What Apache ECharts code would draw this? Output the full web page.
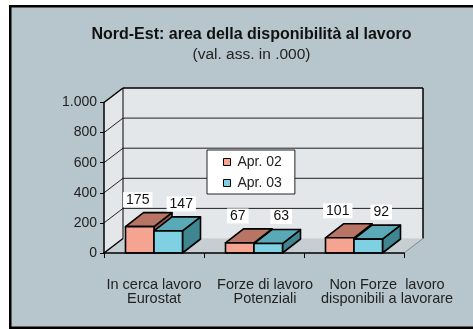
<!DOCTYPE html>
<html>
<head>
<meta charset="utf-8">
<script src="https://cdn.jsdelivr.net/npm/echarts@6/dist/echarts.min.js"></script>
<style>
  html, body { margin: 0; padding: 0; background: #ffffff; }
  #chart { width: 473px; height: 329px; }
</style>
</head>
<body>
<div id="chart"></div>
<script>
// ---- data ----
const categories = [
  'In cerca lavoro\nEurostat',
  'Forze di lavoro\nPotenziali',
  'Non Forze  lavoro\ndisponibili a lavorare'
];
const seriesNames = ['Apr. 02', 'Apr. 03'];
const apr02 = [175, 67, 101];
const apr03 = [147, 63, 92];
const yTicks = [0, 200, 400, 600, 800, 1000];

// ---- look ----
const FONT = '"Liberation Sans", Arial, sans-serif';
const BG = '#b6c6cc';
const WALL = '#e3e7e9';
const FLOOR = '#c6ced2';
const WALL_DX = 19, WALL_DY = -14.5;   // depth of the box
const BAR_DX = 18, BAR_DY = -14;       // depth of each column
const BAR_RATIO = 0.285;               // column width as share of a category band
const LABEL_SHIFT = [-2, 13];          // horizontal nudge of value labels per series
const CAT_SHIFT = [0, 11, 33];         // horizontal nudge of category labels
const PALETTE = [
  { front: '#f4a490', top: '#b87464', side: '#9a5a4c' },
  { front: '#7fd0e2', top: '#59a9b7', side: '#3f8690' }
];

function fmtThousands(v) {
  return String(v).replace(/\B(?=(\d{3})+(?!\d))/g, '.');
}

// Box walls, floor and gridlines of the 3D frame
function renderFrame(params, api) {
  const cs = params.coordSys;
  const L = cs.x, R = cs.x + cs.width, T = cs.y, B = cs.y + cs.height;
  const dx = WALL_DX, dy = WALL_DY;
  const kids = [];
  kids.push({ type: 'polygon', shape: { points: [[L, B], [R, B], [R + dx, B + dy], [L + dx, B + dy]] },
              style: { fill: FLOOR, stroke: null } });
  kids.push({ type: 'polygon', shape: { points: [[L, B], [L, T], [L + dx, T + dy], [L + dx, B + dy]] },
              style: { fill: WALL, stroke: null } });
  kids.push({ type: 'rect', shape: { x: L + dx, y: T + dy, width: cs.width, height: cs.height },
              style: { fill: WALL, stroke: null } });
  yTicks.forEach(function (v) {
    if (v === 0 || v === yTicks[yTicks.length - 1]) return;
    const y = api.coord([0, v])[1];
    kids.push({ type: 'line', shape: { x1: L, y1: y, x2: L + dx, y2: y + dy },
                style: { stroke: '#222', lineWidth: 1 } });
    kids.push({ type: 'line', shape: { x1: L + dx, y1: y + dy, x2: R + dx, y2: y + dy },
                style: { stroke: '#222', lineWidth: 1 } });
  });
  const edge = { stroke: '#000', lineWidth: 1.5 };
  kids.push({ type: 'line', shape: { x1: L, y1: T, x2: L + dx, y2: T + dy }, style: edge });
  kids.push({ type: 'line', shape: { x1: L, y1: B, x2: L + dx, y2: B + dy }, style: edge });
  kids.push({ type: 'line', shape: { x1: L + dx, y1: T + dy, x2: L + dx, y2: B + dy }, style: { stroke: '#000', lineWidth: 1 } });
  kids.push({ type: 'line', shape: { x1: L + dx, y1: T + dy, x2: R + dx, y2: T + dy }, style: edge });
  kids.push({ type: 'line', shape: { x1: R + dx, y1: T + dy, x2: R + dx, y2: B + dy }, style: edge });
  kids.push({ type: 'line', shape: { x1: R, y1: B, x2: R + dx, y2: B + dy }, style: { stroke: '#7f898d', lineWidth: 1 } });
  return { type: 'group', children: kids };
}

// One 3D column per data item, with its value label
function columnRenderer(sIdx) {
  const pal = PALETTE[sIdx];
  return function (params, api) {
    const ci = api.value(0), v = api.value(1);
    const base = api.coord([ci, 0]);
    const top = api.coord([ci, v]);
    const bw = api.size([1, 0])[0] * BAR_RATIO;
    const x0 = sIdx === 0 ? base[0] - bw : base[0];
    const x1 = x0 + bw;
    const yT = top[1], yB = base[1];
    const dx = BAR_DX, dy = BAR_DY;
    const stroke = { stroke: '#000', lineWidth: 1.6, lineJoin: 'round' };
    return {
      type: 'group',
      children: [
        { type: 'polygon', shape: { points: [[x1, yT], [x1 + dx, yT + dy], [x1 + dx, yB + dy], [x1, yB]] },
          style: Object.assign({ fill: pal.side }, stroke) },
        { type: 'polygon', shape: { points: [[x0, yT], [x1, yT], [x1 + dx, yT + dy], [x0 + dx, yT + dy]] },
          style: Object.assign({ fill: pal.top }, stroke) },
        { type: 'rect', shape: { x: x0, y: yT, width: bw, height: yB - yT },
          style: Object.assign({ fill: pal.front }, stroke) },
        { type: 'text', z2: 100,
          x: (x0 + x1) / 2 + LABEL_SHIFT[sIdx], y: yT + dy - 13,
          style: { text: String(v), fill: '#111', font: '14px ' + FONT, align: 'center', verticalAlign: 'middle',
                   backgroundColor: '#ffffff', padding: [1, 3, 0, 3] } }
      ]
    };
  };
}

const chart = echarts.init(document.getElementById('chart'), null, { renderer: 'canvas' });

const catRich = {};
CAT_SHIFT.forEach(function (s, i) {
  catRich['c' + i] = { fontFamily: FONT, fontSize: 14.5, color: '#222', lineHeight: 14, padding: [0, 0, 0, s * 2] };
});

chart.setOption({
  backgroundColor: BG,
  animation: false,
  textStyle: { fontFamily: FONT },
  title: {
    text: 'Nord-Est: area della disponibilità al lavoro',
    subtext: '(val. ass. in .000)',
    left: 246.5,
    textAlign: 'center',
    top: 21,
    itemGap: 2,
    textStyle: { fontFamily: FONT, fontSize: 16, fontWeight: 'bold', color: '#111', lineHeight: 18 },
    subtextStyle: { fontFamily: FONT, fontSize: 15.5, color: '#222', lineHeight: 18 }
  },
  legend: {
    data: seriesNames,
    orient: 'vertical',
    left: 207,
    top: 150,
    icon: 'rect',
    itemWidth: 7,
    itemHeight: 7,
    itemGap: 5,
    padding: [4, 13, 3, 16],
    backgroundColor: '#ffffff',
    borderColor: '#222',
    borderWidth: 1,
    itemStyle: { borderColor: '#000', borderWidth: 1 },
    textStyle: { fontFamily: FONT, fontSize: 14, color: '#222', lineHeight: 16, padding: [0, 0, 0, 2] },
    z: 20
  },
  grid: { left: 104, right: 69, top: 102.5, bottom: 76, outerBoundsMode: 'none' },
  xAxis: {
    type: 'category',
    data: categories,
    z: 10,
    axisLine: { lineStyle: { color: '#000', width: 1.5 } },
    axisTick: { show: true, length: 5, lineStyle: { color: '#000', width: 1 } },
    axisLabel: {
      margin: 25,
      interval: 0,
      formatter: function (val, idx) {
        return val.split('\n').map(function (line) { return '{c' + idx + '|' + line + '}'; }).join('\n');
      },
      rich: catRich
    }
  },
  yAxis: {
    type: 'value',
    min: 0, max: 1000, interval: 200,
    z: 10,
    axisLine: { show: true, lineStyle: { color: '#000', width: 1.5 } },
    axisTick: { show: true, length: 4, lineStyle: { color: '#000', width: 1 } },
    splitLine: { show: false },
    axisLabel: { margin: 7, fontFamily: FONT, fontSize: 14, color: '#222', formatter: fmtThousands }
  },
  graphic: [
    { type: 'rect', shape: { x: 0, y: 0, width: 473, height: 5 }, style: { fill: '#fff' }, z: 100 },
    { type: 'rect', shape: { x: 0, y: 0, width: 9, height: 329 }, style: { fill: '#fff' }, z: 100 },
    { type: 'rect', shape: { x: 9, y: 5, width: 464, height: 2.5 }, style: { fill: '#000' }, z: 100 },
    { type: 'rect', shape: { x: 9, y: 5, width: 2.5, height: 324 }, style: { fill: '#000' }, z: 100 },
    { type: 'rect', shape: { x: 9, y: 326.5, width: 464, height: 2.5 }, style: { fill: '#000' }, z: 100 }
  ],
  series: [
    { type: 'custom', name: 'frame', silent: true, z: 1, data: [[0, 0]], renderItem: renderFrame },
    { type: 'custom', name: seriesNames[0], z: 2, itemStyle: { color: PALETTE[0].front },
      data: apr02.map(function (v, i) { return [i, v]; }), encode: { x: 0, y: 1 },
      renderItem: columnRenderer(0) },
    { type: 'custom', name: seriesNames[1], z: 2, itemStyle: { color: PALETTE[1].front },
      data: apr03.map(function (v, i) { return [i, v]; }), encode: { x: 0, y: 1 },
      renderItem: columnRenderer(1) }
  ]
});
</script>
</body>
</html>
